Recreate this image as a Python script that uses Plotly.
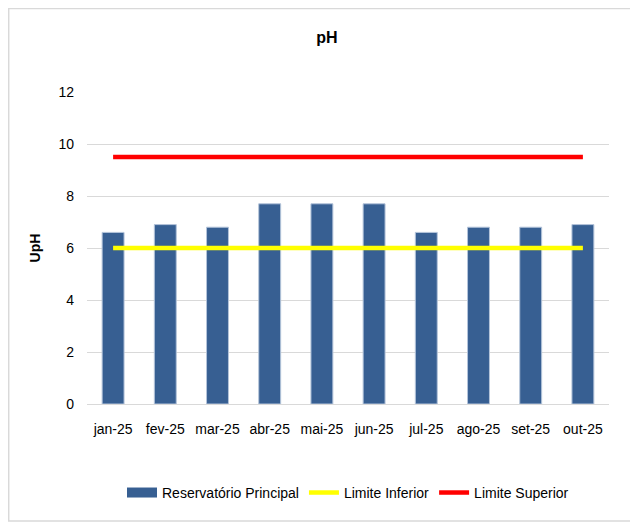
import plotly.graph_objects as go

months = ["jan-25", "fev-25", "mar-25", "abr-25", "mai-25", "jun-25",
          "jul-25", "ago-25", "set-25", "out-25"]
reservatorio = [6.6, 6.9, 6.8, 7.7, 7.7, 7.7, 6.6, 6.8, 6.8, 6.9]
limite_inferior = [6.0] * 10
limite_superior = [9.5] * 10

FONT = "Liberation Sans Narrow, Arial Narrow, Liberation Sans, sans-serif"
BAR = "#375F92"

fig = go.Figure()
fig.add_trace(go.Bar(
    x=months, y=reservatorio, name="Reservatório Principal", showlegend=False,
    marker=dict(color=BAR, line=dict(color="#B4C4DA", width=1)),
))
# legend-only entry drawn as a wide rectangle like the original
fig.add_trace(go.Scatter(
    x=[None], y=[None], name="Reservatório Principal", mode="lines",
    line=dict(color=BAR, width=10),
))
fig.add_trace(go.Scatter(
    x=months, y=limite_inferior, name="Limite Inferior", mode="lines",
    line=dict(color="#FFFF00", width=4.5),
))
fig.add_trace(go.Scatter(
    x=months, y=limite_superior, name="Limite Superior", mode="lines",
    line=dict(color="#FF0000", width=4.5),
))

fig.update_layout(
    width=638, height=526,
    margin=dict(l=79, r=37, t=84, b=130),
    paper_bgcolor="white", plot_bgcolor="white",
    font=dict(family=FONT, size=14, color="#000000"),
    title=dict(text="<b>pH</b>", x=0.5, xanchor="center", y=0.945, yanchor="middle",
               font=dict(size=16, family=FONT)),
    bargap=0.58,
    showlegend=True,
    legend=dict(orientation="h", x=0.5, xanchor="center", y=-0.285, yanchor="middle",
                font=dict(size=14, family=FONT), itemwidth=30, tracegroupgap=0),
    xaxis=dict(showgrid=False, showline=True, linecolor="#D9D9D9", linewidth=1,
               ticks="", tickfont=dict(size=14), ticklabelstandoff=12),
    yaxis=dict(range=[0, 12], dtick=2, showgrid=True, gridcolor="#D9D9D9", gridwidth=1,
               zeroline=False, ticks="", tickfont=dict(size=14), ticklabelstandoff=12,
               title=dict(text="<b>UpH</b>", font=dict(size=14), standoff=14)),
    shapes=[dict(type="rect", xref="paper", yref="paper",
                 x0=-0.150, x1=1.044, y0=-0.375, y1=1.268,
                 line=dict(color="#D9D9D9", width=1.5), layer="below")],
)

fig.write_html("out.html")
